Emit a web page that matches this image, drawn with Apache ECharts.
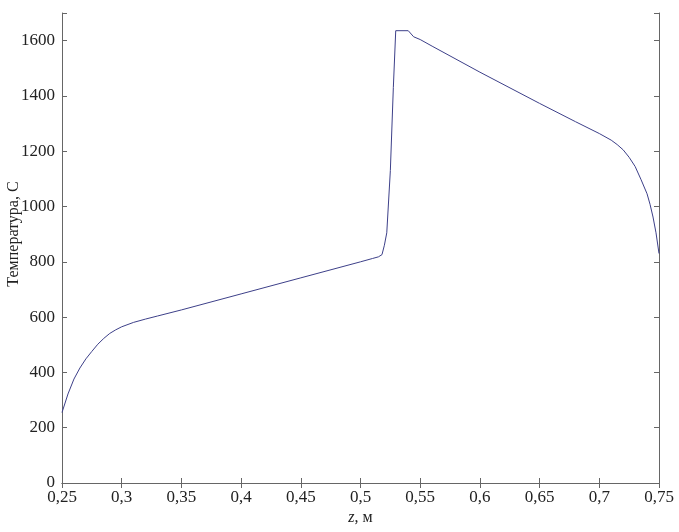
<!DOCTYPE html>
<html>
<head>
<meta charset="utf-8">
<script src="https://cdn.jsdelivr.net/npm/echarts@6/dist/echarts.min.js"></script>
<style>html,body{margin:0;padding:0;background:#fff}#c{width:679px;height:532px}</style>
</head>
<body>
<div id="c"></div>
<script>
var zValues = [0.25, 0.255, 0.26, 0.265, 0.27, 0.275, 0.28, 0.285, 0.29, 0.295, 0.30, 0.31, 0.32, 0.33, 0.35, 0.40, 0.45, 0.50, 0.51, 0.515, 0.518, 0.52, 0.522, 0.525, 0.5275, 0.5295, 0.540, 0.5445, 0.55, 0.56, 0.60, 0.65, 0.68, 0.70, 0.71, 0.715, 0.72, 0.725, 0.73, 0.735, 0.74, 0.7425, 0.745, 0.7475, 0.75];
var tempValues = [255, 322, 376, 416, 449, 476, 502, 523, 541, 554, 565, 581, 593, 604, 626, 684, 742, 800, 812, 818, 826, 860, 905, 1130, 1430, 1636, 1636, 1614, 1604, 1580, 1486, 1373, 1307, 1264, 1240, 1224, 1205, 1178, 1145, 1097, 1046, 1008, 962, 905, 830];
var xTicks = [0.25, 0.3, 0.35, 0.4, 0.45, 0.5, 0.55, 0.6, 0.65, 0.7, 0.75];
var yTicks = [0, 200, 400, 600, 800, 1000, 1200, 1400, 1600];
var yAxisName = 'Температура, С';

var data = zValues.map(function (z, i) { return [z, tempValues[i]]; });
var font = 'Liberation Serif';
var axisColor = '#666';
function fmtX(v) {
  var r = Math.round(v * 100) / 100;
  for (var i = 0; i < xTicks.length; i++) if (Math.abs(xTicks[i] - r) < 1e-6) return String(r).replace('.', ',');
  return '';
}
function fmtY(v) { return yTicks.indexOf(Math.round(v)) >= 0 ? String(Math.round(v)) : ''; }

var chart = echarts.init(document.getElementById('c'), null, {renderer: 'canvas'});
var common = {
  axisLine: {show: true, lineStyle: {color: axisColor, width: 1}},
  axisTick: {show: true, inside: true, length: 5, lineStyle: {color: axisColor}},
  splitLine: {show: false}
};
chart.setOption({
  animation: false,
  backgroundColor: '#fff',
  grid: {left: 62, right: 20, top: 13, bottom: 49, containLabel: false, outerBoundsMode: 'none'},
  xAxis: [
    Object.assign({
      type: 'value', min: 0.25, max: 0.75, interval: 0.05, position: 'bottom',
      name: '{i|z}, м', nameLocation: 'middle', nameGap: 27, nameMoveOverlap: false,
      nameTextStyle: {fontFamily: font, fontSize: 16, color: '#222', rich: {i: {fontFamily: font, fontStyle: 'italic', fontSize: 16, color: '#222'}}},
      axisLabel: {formatter: fmtX, fontFamily: font, fontSize: 17, color: '#222', margin: 6}
    }, common),
    Object.assign({
      type: 'value', min: 0.25, max: 0.75, interval: 0.05, position: 'top',
      axisLabel: {show: false}
    }, common)
  ],
  yAxis: [
    Object.assign({
      type: 'value', min: 0, max: 1700, interval: 200, position: 'left',
      name: yAxisName, nameLocation: 'middle', nameGap: 40, nameMoveOverlap: false,
      nameTextStyle: {fontFamily: font, fontSize: 16, color: '#222', padding: [0, 0, 0, 28]},
      axisLabel: {formatter: fmtY, fontFamily: font, fontSize: 17, color: '#222', margin: 7}
    }, common),
    Object.assign({
      type: 'value', min: 0, max: 1700, interval: 200, position: 'right',
      axisLabel: {show: false}
    }, common)
  ],
  series: [{
    type: 'line', data: data, showSymbol: false, smooth: false,
    lineStyle: {color: '#3d4089', width: 1}
  }]
});
</script>
</body>
</html>
